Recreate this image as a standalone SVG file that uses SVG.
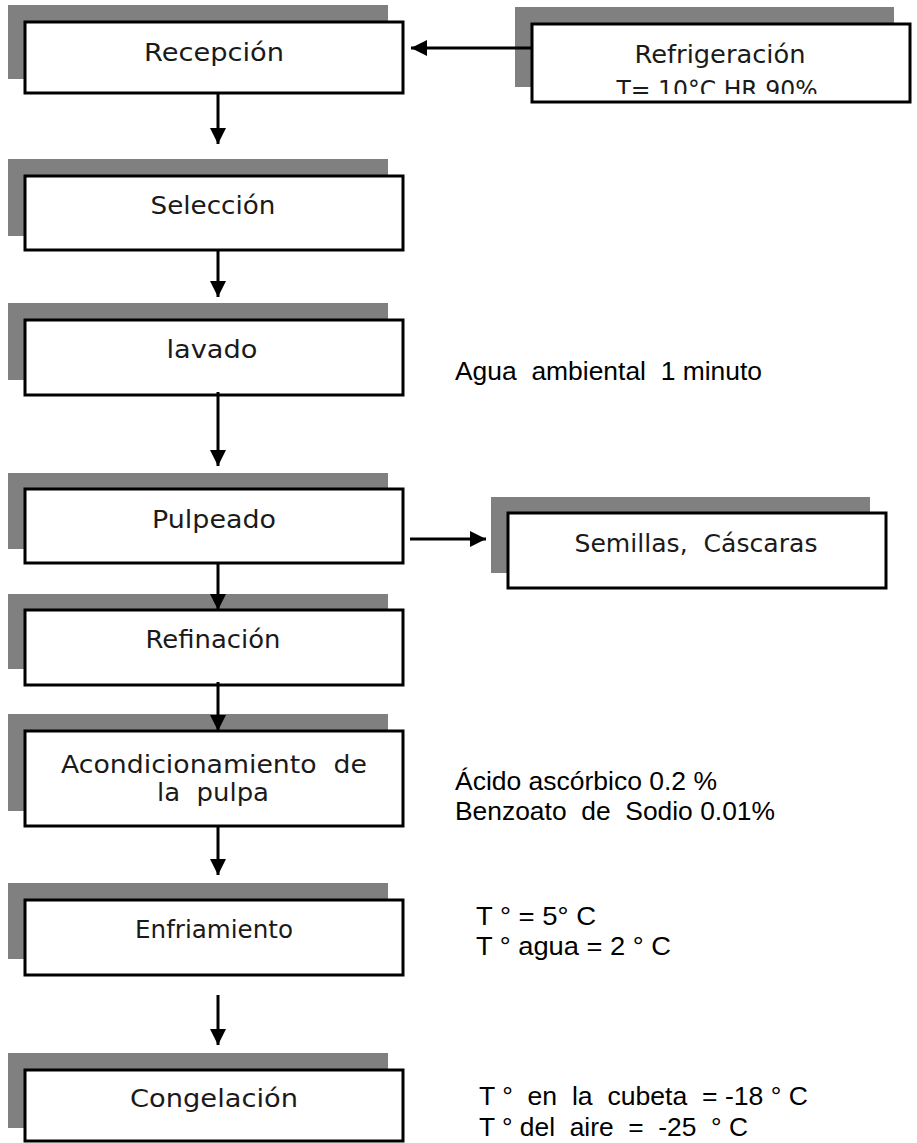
<svg xmlns="http://www.w3.org/2000/svg" width="917" height="1143" viewBox="0 0 917 1143">
  <style>
    text { white-space: pre; }
    .shadow { fill: #808080; }
    .box { fill: #ffffff; stroke: #000000; stroke-width: 3; }
    .lbl { font-family: "DejaVu Sans", "Liberation Sans", sans-serif; font-size: 25px; fill: #1a1a1a; }
    .lbl2 { font-size: 24px; }
    .note { font-family: "Liberation Sans", Arial, sans-serif; font-size: 25px; fill: #000000; }
    .wire { stroke: #000000; stroke-width: 3; fill: none; marker-end: url(#head); }
  </style>
  <defs>
    <marker id="head" viewBox="0 0 16 16" refX="16" refY="8" markerWidth="16" markerHeight="16" markerUnits="userSpaceOnUse" orient="auto">
      <path d="M0,0 L16,8 L0,16 Z" fill="#000000"/>
    </marker>
    <clipPath id="refClip">
      <rect x="531" y="23" width="380" height="71"/>
    </clipPath>
  </defs>

  <rect width="917" height="1143" fill="#ffffff"/>

  <g id="recepcion">
    <rect class="shadow" x="8" y="5" width="380" height="74"/>
    <rect class="box" x="25" y="22" width="378" height="71"/>
    <text class="lbl" x="214" y="61" text-anchor="middle" textLength="140" lengthAdjust="spacingAndGlyphs">Recepción</text>
  </g>

  <g id="refrigeracion">
    <rect class="shadow" x="515" y="7" width="379" height="80"/>
    <rect class="box" x="532" y="24" width="378" height="78"/>
    <g clip-path="url(#refClip)">
      <text class="lbl" x="720" y="63" text-anchor="middle" textLength="171" lengthAdjust="spacingAndGlyphs">Refrigeración</text>
      <text class="lbl" x="717" y="98" text-anchor="middle" textLength="201" lengthAdjust="spacingAndGlyphs">T= 10°C HR 90%</text>
    </g>
  </g>

  <g id="seleccion">
    <rect class="shadow" x="8" y="159" width="380" height="77"/>
    <rect class="box" x="25" y="176" width="378" height="74"/>
    <text class="lbl" x="213" y="214" text-anchor="middle" textLength="125" lengthAdjust="spacingAndGlyphs">Selección</text>
  </g>

  <g id="lavado">
    <rect class="shadow" x="8" y="303" width="380" height="77"/>
    <rect class="box" x="25" y="320" width="378" height="75"/>
    <text class="lbl" x="212" y="358" text-anchor="middle" textLength="91" lengthAdjust="spacingAndGlyphs">lavado</text>
    <text class="note" x="455" y="380" textLength="307" lengthAdjust="spacingAndGlyphs">Agua  ambiental  1 minuto</text>
  </g>

  <g id="pulpeado">
    <rect class="shadow" x="8" y="473" width="380" height="76"/>
    <rect class="box" x="25" y="489" width="378" height="74"/>
    <text class="lbl" x="214" y="528" text-anchor="middle" textLength="124" lengthAdjust="spacingAndGlyphs">Pulpeado</text>
  </g>

  <g id="semillas">
    <rect class="shadow" x="491" y="497" width="379" height="76"/>
    <rect class="box" x="508" y="513" width="378" height="75"/>
    <text class="lbl" x="696" y="552" text-anchor="middle" textLength="243" lengthAdjust="spacingAndGlyphs">Semillas,  Cáscaras</text>
  </g>

  <g id="refinacion">
    <rect class="shadow" x="8" y="594" width="380" height="75"/>
    <rect class="box" x="25" y="610" width="378" height="75"/>
    <text class="lbl" x="213" y="648" text-anchor="middle" textLength="135" lengthAdjust="spacingAndGlyphs">Refinación</text>
  </g>

  <g id="acondicionamiento">
    <rect class="shadow" x="8" y="714" width="380" height="97"/>
    <rect class="box" x="25" y="731" width="378" height="95"/>
    <text class="lbl lbl2" x="214" y="773" text-anchor="middle" textLength="306" lengthAdjust="spacingAndGlyphs">Acondicionamiento  de</text>
    <text class="lbl lbl2" x="213" y="801" text-anchor="middle" textLength="112" lengthAdjust="spacingAndGlyphs">la  pulpa</text>
    <text class="note" x="455" y="790" textLength="262" lengthAdjust="spacingAndGlyphs">Ácido ascórbico 0.2 %</text>
    <text class="note" x="455" y="820" textLength="320" lengthAdjust="spacingAndGlyphs">Benzoato  de  Sodio 0.01%</text>
  </g>

  <g id="enfriamiento">
    <rect class="shadow" x="8" y="883" width="380" height="76"/>
    <rect class="box" x="25" y="900" width="378" height="75"/>
    <text class="lbl" x="214" y="938" text-anchor="middle" textLength="158" lengthAdjust="spacingAndGlyphs">Enfriamiento</text>
    <text class="note" x="476" y="925" textLength="120" lengthAdjust="spacingAndGlyphs">T ° = 5° C</text>
    <text class="note" x="476" y="955" textLength="195" lengthAdjust="spacingAndGlyphs">T ° agua = 2 ° C</text>
  </g>

  <g id="congelacion">
    <rect class="shadow" x="8" y="1053" width="380" height="75"/>
    <rect class="box" x="25" y="1070" width="378" height="71"/>
    <text class="lbl" x="214" y="1107" text-anchor="middle" textLength="168" lengthAdjust="spacingAndGlyphs">Congelación</text>
    <text class="note" x="479" y="1105" textLength="329" lengthAdjust="spacingAndGlyphs">T °  en  la  cubeta  = -18 ° C</text>
    <text class="note" x="479" y="1136" textLength="269" lengthAdjust="spacingAndGlyphs">T ° del  aire  =  -25  ° C</text>
  </g>

  <g id="connectors">
    <line class="wire" x1="218" y1="94" x2="218" y2="144"/>
    <line class="wire" x1="218" y1="251" x2="218" y2="297"/>
    <line class="wire" x1="218" y1="392" x2="218" y2="466"/>
    <line class="wire" x1="218" y1="562" x2="218" y2="610"/>
    <line class="wire" x1="218" y1="682" x2="218" y2="731"/>
    <line class="wire" x1="218" y1="826" x2="218" y2="875"/>
    <line class="wire" x1="218" y1="995" x2="218" y2="1045"/>
    <line class="wire" x1="531" y1="48" x2="411" y2="48"/>
    <line class="wire" x1="410" y1="539" x2="486" y2="539"/>
  </g>
</svg>
